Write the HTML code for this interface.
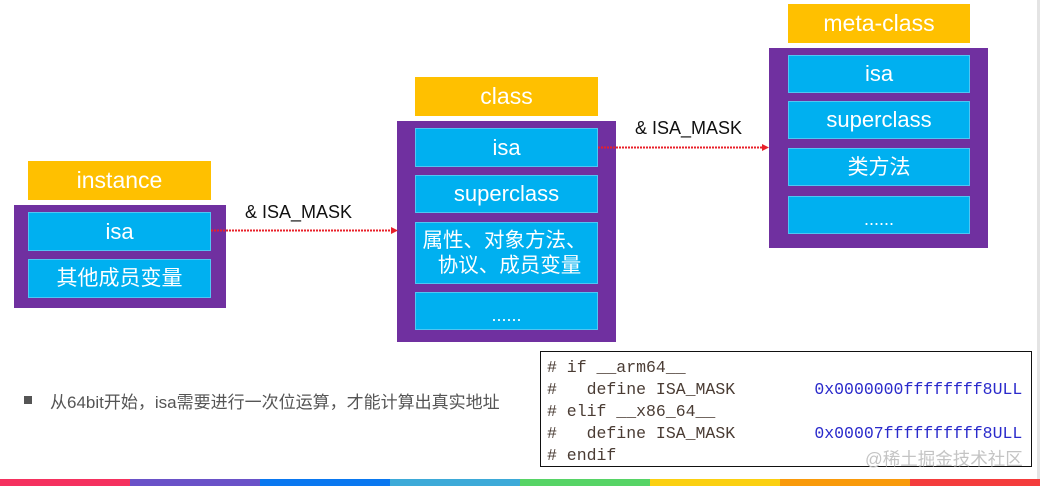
<!DOCTYPE html>
<html><head><meta charset="utf-8">
<style>
*{margin:0;padding:0;box-sizing:border-box}
body{width:1041px;height:486px;background:#fff;position:relative;overflow:hidden;font-family:"Liberation Sans","Noto Sans CJK SC",sans-serif}
.a{position:absolute}
.y{position:absolute;background:#ffc000;color:#fff;font-size:23px;text-align:center;line-height:39px}
.p{position:absolute;background:#7030a0}
.b{position:absolute;background:#00b0f0;color:#fff;font-size:22px;text-align:center;border:1px solid #4fc6f3;display:flex;align-items:center;justify-content:center;line-height:1}
.cj{font-family:"Liberation Sans","Noto Sans CJK SC",sans-serif;font-size:21px}
.lbl{position:absolute;font-size:18px;color:#111;white-space:nowrap}
.code{position:absolute;left:540px;top:351px;width:492px;height:116px;border:1px solid #111;background:#fff}
.code div{position:absolute;left:6px;font-family:"Liberation Mono",monospace;font-size:16.5px;color:#4a3c34;white-space:pre;line-height:22px}
.hex{color:#2a2acb}
.bar{position:absolute;top:479px;height:7px;width:130px}
</style></head><body>

<!-- right edge line -->
<div class="a" style="left:1037px;top:0;width:3px;height:480px;background:#e4e4e4"></div>

<!-- instance -->
<div class="y" style="left:28px;top:161px;width:183px;height:39px">instance</div>
<div class="p" style="left:14px;top:205px;width:212px;height:103px"></div>
<div class="b" style="left:28px;top:212px;width:183px;height:39px">isa</div>
<div class="b cj" style="left:28px;top:259px;width:183px;height:39px">其他成员变量</div>

<!-- class -->
<div class="y" style="left:415px;top:77px;width:183px;height:39px">class</div>
<div class="p" style="left:397px;top:121px;width:219px;height:221px"></div>
<div class="b" style="left:415px;top:128px;width:183px;height:39px">isa</div>
<div class="b" style="left:415px;top:175px;width:183px;height:38px">superclass</div>
<div class="b cj" style="left:415px;top:222px;width:183px;height:62px;flex-direction:column;line-height:25px;font-size:20.5px"><span style="margin-left:-4px">属性、对象方法、</span><span style="padding-left:6px">协议、成员变量</span></div>
<div class="b" style="left:415px;top:292px;width:183px;height:38px;font-size:18px;padding-top:8px">......</div>

<!-- meta-class -->
<div class="y" style="left:788px;top:4px;width:182px;height:39px">meta-class</div>
<div class="p" style="left:769px;top:48px;width:219px;height:200px"></div>
<div class="b" style="left:788px;top:55px;width:182px;height:38px">isa</div>
<div class="b" style="left:788px;top:101px;width:182px;height:38px">superclass</div>
<div class="b cj" style="left:788px;top:148px;width:182px;height:38px">类方法</div>
<div class="b" style="left:788px;top:196px;width:182px;height:38px;font-size:18px;padding-top:8px">......</div>

<!-- arrows -->
<svg class="a" style="left:0;top:0" width="1041" height="486">
  <line x1="211" y1="230.5" x2="392" y2="230.5" stroke="#e8202a" stroke-width="2" stroke-dasharray="2,1"/>
  <polygon points="391,227 398,230.5 391,234" fill="#e8202a"/>
  <line x1="598" y1="147.5" x2="763" y2="147.5" stroke="#e8202a" stroke-width="2" stroke-dasharray="2,1"/>
  <polygon points="762,144 769,147.5 762,151" fill="#e8202a"/>
</svg>
<div class="lbl" style="left:245px;top:202px">&amp; ISA_MASK</div>
<div class="lbl" style="left:635px;top:118px">&amp; ISA_MASK</div>

<!-- bullet -->
<div class="a" style="left:24px;top:396px;width:8px;height:8px;background:#555"></div>
<div class="a" style="left:50px;top:388px;font-size:17px;color:#555;white-space:nowrap;font-family:'Liberation Sans','Noto Sans CJK SC',sans-serif">从64bit开始，isa需要进行一次位运算，才能计算出真实地址</div>

<!-- code -->
<div class="code">
  <div style="top:5px"># if __arm64__</div>
  <div style="top:27px">#   define ISA_MASK        <span class="hex">0x0000000ffffffff8ULL</span></div>
  <div style="top:49px"># elif __x86_64__</div>
  <div style="top:71px">#   define ISA_MASK        <span class="hex">0x00007ffffffffff8ULL</span></div>
  <div style="top:93px"># endif</div>
  <span style="position:absolute;left:324px;top:94px;font-size:17.5px;color:#c4c4c4;font-family:'Liberation Sans','Noto Sans CJK SC',sans-serif;white-space:nowrap">@稀土掘金技术社区</span>
</div>

<!-- bottom bar -->
<div class="bar" style="left:0;background:#f5315f"></div>
<div class="bar" style="left:130px;background:#6a52c8"></div>
<div class="bar" style="left:260px;background:#0a78f0"></div>
<div class="bar" style="left:390px;background:#3daad8"></div>
<div class="bar" style="left:520px;background:#57d466"></div>
<div class="bar" style="left:650px;background:#fbd011"></div>
<div class="bar" style="left:780px;background:#f99a0b"></div>
<div class="bar" style="left:910px;background:#f43c3c"></div>
</body></html>
